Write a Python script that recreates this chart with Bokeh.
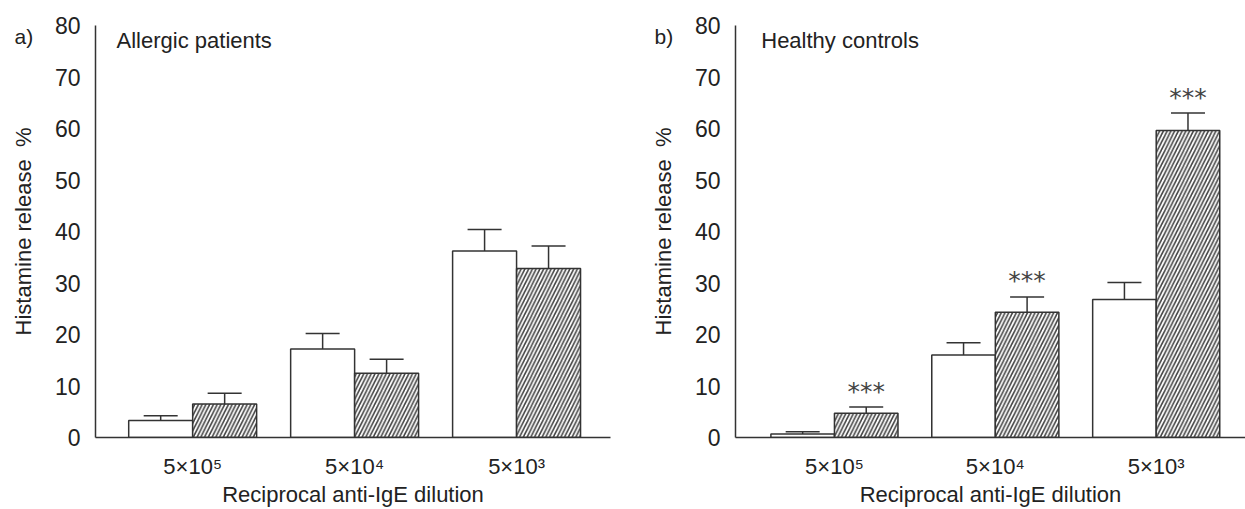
from bokeh.plotting import figure
from bokeh.layouts import row
from bokeh.models import ColumnDataSource, Whisker, TeeHead, Label, FixedTicker, Range1d
from bokeh.core.properties import value
from bokeh.embed import file_html
from bokeh.resources import INLINE

# ---- data ----
dilutions = ["5×10⁵", "5×10⁴", "5×10³"]
allergic_open = [3.3, 17.2, 36.2]
allergic_open_err = [0.9, 3.0, 4.2]
allergic_hatch = [6.5, 12.5, 32.8]
allergic_hatch_err = [2.1, 2.7, 4.4]
healthy_open = [0.7, 16.0, 26.8]
healthy_open_err = [0.4, 2.4, 3.3]
healthy_hatch = [4.7, 24.3, 59.6]
healthy_hatch_err = [1.2, 3.0, 3.4]
healthy_sig = ["***", "***", "***"]
y_ticks = [0, 10, 20, 30, 40, 50, 60, 70, 80]

FONT = "Liberation Sans"
TXT = "#222222"
LINE = "#333333"


def panel(width, border_left, border_right, first_center, frame_units, tag, title,
          open_v, open_e, hatch_v, hatch_e, sig=None, tag_x=15, title_x=0.13):
    centers = [first_center + i for i in range(len(dilutions))]
    bw = 0.395
    p = figure(width=width, height=509, output_backend="svg", toolbar_location=None,
               title=None,
               x_range=Range1d(0, frame_units), y_range=Range1d(0, 80),
               min_border_left=border_left, min_border_right=border_right,
               min_border_top=25, min_border_bottom=72)
    p.outline_line_color = None
    p.grid.visible = False
    p.background_fill_color = "white"
    p.border_fill_color = "white"

    src = ColumnDataSource(dict(
        xo=[c - bw / 2 for c in centers], xh=[c + bw / 2 for c in centers],
        vo=open_v, vh=hatch_v,
        uo=[v + e for v, e in zip(open_v, open_e)],
        uh=[v + e for v, e in zip(hatch_v, hatch_e)],
    ))
    p.vbar(x="xo", top="vo", bottom=0, width=bw, source=src, fill_color="white",
           line_color=LINE, line_width=1.5)
    p.vbar(x="xh", top="vh", bottom=0, width=bw, source=src, fill_color="white",
           line_color=LINE, line_width=1.5, hatch_pattern="/", hatch_color="#444444",
           hatch_scale=7.5, hatch_weight=1.6)
    for xk, lk, uk in (("xo", "vo", "uo"), ("xh", "vh", "uh")):
        w = Whisker(base=xk, lower=lk, upper=uk, source=src, dimension="height",
                    line_color=LINE, line_width=1.5,
                    upper_head=TeeHead(size=34, line_color=LINE, line_width=1.5),
                    lower_head=None)
        p.add_layout(w)

    if sig is not None:
        ssrc = ColumnDataSource(dict(x=src.data["xh"], y=src.data["uh"], t=sig))
        p.text(x="x", y="y", text="t", source=ssrc, text_align="center",
               text_baseline="middle", y_offset=-16, text_font=value("DejaVu Sans"),
               text_font_size="25px", text_color="#444444")

    # axes
    p.yaxis.ticker = FixedTicker(ticks=y_ticks)
    p.yaxis.minor_tick_line_color = None
    p.yaxis.major_tick_in = 0
    p.yaxis.major_tick_out = 9
    p.yaxis.major_label_standoff = 6
    p.yaxis.axis_label = "Histamine release\u00a0\u00a0%"
    p.yaxis.axis_label_standoff = 16
    p.xaxis.ticker = FixedTicker(ticks=centers)
    p.xaxis.major_label_overrides = {c: d for c, d in zip(centers, dilutions)}
    p.xaxis.major_tick_line_color = None
    p.xaxis.minor_tick_line_color = None
    p.xaxis.major_label_standoff = 10
    p.xaxis.axis_label = "Reciprocal anti-IgE dilution"
    p.xaxis.axis_label_standoff = 0
    for ax in (p.xaxis, p.yaxis):
        ax.axis_line_color = LINE
        ax.axis_line_width = 1.5
        ax.major_tick_line_color = LINE if ax is p.yaxis else None
        ax.major_tick_line_width = 1.5
        ax.major_label_text_font = FONT
        ax.major_label_text_font_size = "23px"
        ax.major_label_text_color = TXT
        ax.axis_label_text_font = FONT
        ax.axis_label_text_font_size = "22px"
        ax.axis_label_text_font_style = "normal"
        ax.axis_label_text_color = TXT
    p.xaxis.major_label_text_font_size = "22px"

    # panel tag placed in the top side panel so that it is not clipped to the frame
    p.add_layout(Label(x=tag_x, y=36, x_units="canvas", y_units="canvas", text=tag,
                       text_font=FONT, text_font_size="21px", text_color=TXT,
                       text_baseline="middle"), "above")
    p.add_layout(Label(x=title_x, y=80, text=title, text_font=FONT, text_font_size="22px",
                       text_color=TXT, text_baseline="top", y_offset=-2))
    return p


pa = panel(622, 95, 12, 0.6, 3.18, "a)", "Allergic patients",
           allergic_open, allergic_open_err, allergic_hatch, allergic_hatch_err,
           tag_x=14, title_x=0.13)
pb = panel(623, 113, 0, 0.615, 3.17, "b)", "Healthy controls",
           healthy_open, healthy_open_err, healthy_hatch, healthy_hatch_err,
           sig=healthy_sig, tag_x=654 - 622, title_x=0.16)

layout = row(pa, pb)
open("out.html", "w").write(file_html(layout, INLINE))
